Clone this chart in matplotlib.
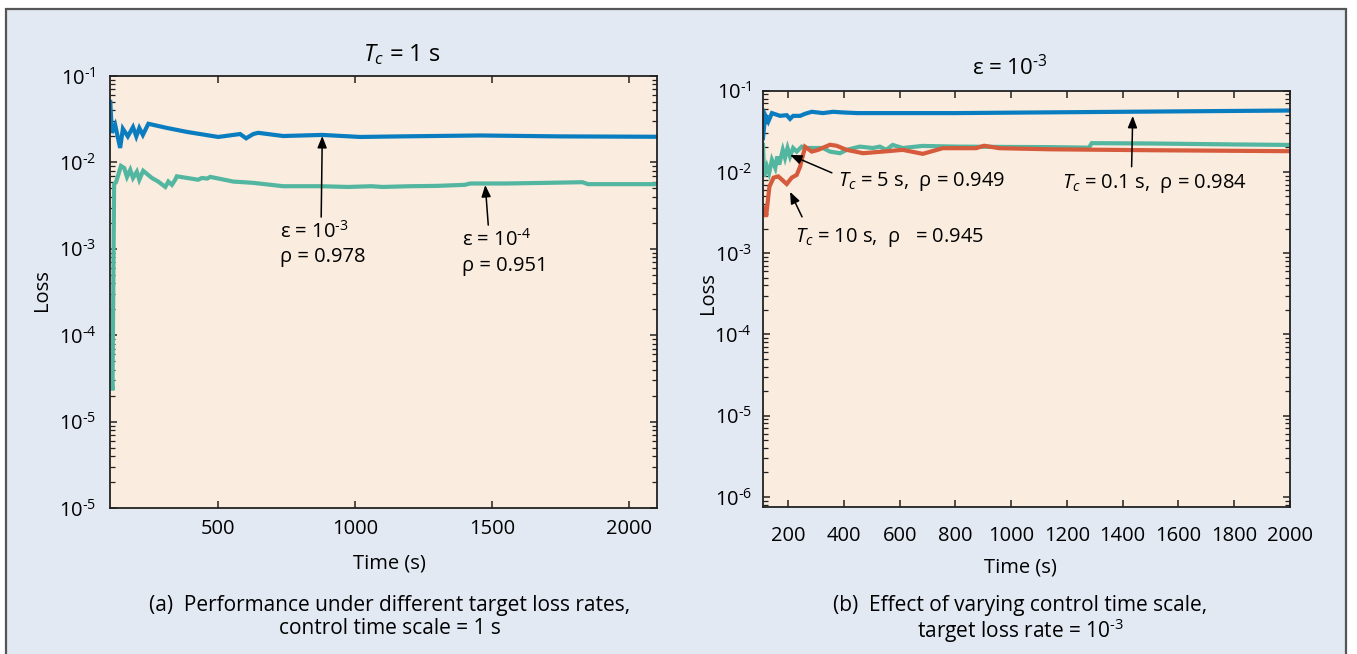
import matplotlib
matplotlib.use('Agg')
import matplotlib.pyplot as plt
from matplotlib.ticker import LogLocator, FixedLocator, FixedFormatter, NullFormatter
from matplotlib.patches import Rectangle

plt.rcParams['font.family'] = ['Open Sans', 'DejaVu Sans']
plt.rcParams['mathtext.fontset'] = 'custom'
plt.rcParams['mathtext.rm'] = 'Open Sans'
plt.rcParams['mathtext.it'] = 'Open Sans:italic'
plt.rcParams['mathtext.bf'] = 'Open Sans:bold'

# ---------------- data: panel (a) ----------------
a_eps3_t = [106, 112, 124, 142, 152, 170, 189, 201, 212, 225, 245, 314, 387, 500, 580, 602,
            628, 646, 737, 880, 1018, 1164, 1456, 1750, 2100]
a_eps3_loss = [0.050, 0.022, 0.027, 0.0147, 0.0245, 0.020, 0.0256, 0.020, 0.025, 0.0208, 0.028,
               0.025, 0.0225, 0.0197, 0.0213, 0.019, 0.0213, 0.022, 0.0202, 0.0208, 0.0197,
               0.0200, 0.0205, 0.0200, 0.0198]

a_eps4_t = [106, 114, 120, 127, 145, 157, 167, 179, 189, 203, 212, 226, 258, 281, 307, 318, 331,
            343, 349, 427, 440, 460, 471, 555, 628, 737, 872, 975, 1060, 1100, 1200, 1300, 1400,
            1420, 1550, 1700, 1830, 1850, 1950, 2100]
a_eps4_loss = [6.0e-5, 2.3e-5, 5.6e-3, 5.9e-3, 9.1e-3, 8.6e-3, 6.8e-3, 8.2e-3, 6.6e-3, 7.8e-3,
               6.3e-3, 8.0e-3, 6.6e-3, 6.0e-3, 5.2e-3, 6.0e-3, 5.5e-3, 6.3e-3, 6.9e-3, 6.3e-3,
               6.6e-3, 6.5e-3, 6.8e-3, 6.0e-3, 5.8e-3, 5.3e-3, 5.3e-3, 5.2e-3, 5.3e-3, 5.2e-3,
               5.3e-3, 5.35e-3, 5.5e-3, 5.7e-3, 5.7e-3, 5.8e-3, 5.9e-3, 5.6e-3, 5.6e-3, 5.6e-3]

a_xticks = [500, 1000, 1500, 2000]
a_yticks = [1e-6, 1e-5, 1e-4, 1e-3, 1e-2, 1e-1]
a_ytick_labels = [r'$10^{\text{-}5}$', r'$10^{\text{-}5}$', r'$10^{\text{-}4}$',
                  r'$10^{\text{-}3}$', r'$10^{\text{-}2}$', r'$10^{\text{-}1}$']

# ---------------- data: panel (b) ----------------
b_tc01_t = [110, 118, 129, 142, 171, 195, 207, 218, 243, 261, 285, 325, 361, 396, 450, 564,
            800, 1100, 1400, 1700, 2000]
b_tc01_loss = [0.026, 0.050, 0.0417, 0.053, 0.049, 0.050, 0.045, 0.049, 0.049, 0.052, 0.055,
               0.053, 0.055, 0.054, 0.053, 0.053, 0.053, 0.054, 0.055, 0.056, 0.057]

b_tc5_t = [110, 114, 124, 132, 142, 154, 161, 168, 181, 189, 198, 207, 218, 231, 249, 267, 325,
           350, 386, 410, 457, 504, 529, 552, 575, 611, 682, 804, 1000, 1136, 1279, 1289, 1500,
           1800, 2000]
b_tc5_loss = [0.0216, 0.0088, 0.0117, 0.0097, 0.0141, 0.0112, 0.0155, 0.0123, 0.0187, 0.0149,
              0.0197, 0.0155, 0.0197, 0.0178, 0.0205, 0.0197, 0.0197, 0.0178, 0.0170, 0.0187,
              0.0205, 0.0197, 0.0205, 0.0187, 0.0215, 0.0197, 0.0209, 0.0205, 0.0203, 0.0202,
              0.0199, 0.0226, 0.0224, 0.0218, 0.0215]

b_tc10_t = [112, 121, 133, 148, 165, 195, 213, 231, 243, 261, 285, 308, 350, 374, 410, 469, 540,
            611, 683, 755, 874, 903, 957, 1136, 1500, 1800, 2000]
b_tc10_loss = [0.0036, 0.0028, 0.0066, 0.0085, 0.0088, 0.0071, 0.0085, 0.0092, 0.0116, 0.0204,
               0.0178, 0.0187, 0.0216, 0.0210, 0.0187, 0.0170, 0.0178, 0.0187, 0.0167, 0.0196,
               0.0196, 0.0210, 0.0196, 0.0190, 0.0185, 0.0182, 0.0180]

b_xticks = [200, 400, 600, 800, 1000, 1200, 1400, 1600, 1800, 2000]
b_yticks = [1e-6, 1e-5, 1e-4, 1e-3, 1e-2, 1e-1]
b_ytick_labels = [r'$10^{\text{-}6}$', r'$10^{\text{-}5}$', r'$10^{\text{-}4}$',
                  r'$10^{\text{-}3}$', r'$10^{\text{-}2}$', r'$10^{\text{-}1}$']

# ---------------- styles ----------------
BG = '#e2e9f3'
PANEL = '#faecde'
BLUE = '#0a7dc0'
TEAL = '#52b6a0'
RED = '#d65a3c'
FS = 14.5
AFS = 14.5
CFS = 15

W, H = 1357, 654
fig = plt.figure(figsize=(W / 100, H / 100), dpi=100, facecolor='white')
fig.patches.append(Rectangle((6 / W, -0.05), (1346 - 6) / W, 1 - 9 / H + 0.05,
                             transform=fig.transFigure, facecolor=BG,
                             edgecolor='#555555', lw=1.6, zorder=-10))


def style_axes(ax, xticks, yticks, ylabels, xpad, ypad):
    ax.set_facecolor(PANEL)
    ax.set_yscale('log')
    for s in ax.spines.values():
        s.set_linewidth(1.3)
        s.set_color('#222222')
    ax.xaxis.set_major_locator(FixedLocator(xticks))
    ax.yaxis.set_major_locator(FixedLocator(yticks))
    ax.yaxis.set_major_formatter(FixedFormatter(ylabels))
    ax.yaxis.set_minor_locator(LogLocator(base=10, subs=range(2, 10), numticks=20))
    ax.yaxis.set_minor_formatter(NullFormatter())
    ax.tick_params(axis='both', which='major', direction='in', length=5, width=1.1,
                   top=True, right=True, labelsize=FS, color='#222222')
    ax.tick_params(axis='y', which='minor', direction='in', length=3.5, width=0.9,
                   left=True, right=True, color='#222222')
    ax.tick_params(axis='x', which='major', pad=xpad)
    ax.tick_params(axis='y', which='major', pad=ypad)


# ---------------- panel (a) ----------------
axa = fig.add_axes([110 / W, 1 - 508 / H, 547 / W, 432 / H])
axa.plot(a_eps4_t, a_eps4_loss, color=TEAL, lw=3.0, solid_joinstyle='miter')
axa.plot(a_eps3_t, a_eps3_loss, color=BLUE, lw=3.0, solid_joinstyle='miter')
style_axes(axa, a_xticks, a_yticks, a_ytick_labels, 8, 10)
axa.set_xlim(105, 2102)
axa.set_ylim(1e-6, 1e-1)

arrow = dict(arrowstyle='-|>,head_length=0.7,head_width=0.28', color='black', lw=1.1,
             shrinkA=0, shrinkB=0)
axa.annotate('', xy=(880, 0.0202), xytext=(876, 0.00233), arrowprops=arrow)
axa.text(726, 0.00156, r'ε = $10^{\text{-}3}$', fontsize=AFS, va='center', ha='left')
axa.text(726, 0.00080, 'ρ = 0.978', fontsize=AFS, va='center', ha='left')
axa.annotate('', xy=(1475, 0.00547), xytext=(1486, 0.00188), arrowprops=arrow)
axa.text(1391, 0.00126, r'ε = $10^{\text{-}4}$', fontsize=AFS, va='center', ha='left')
axa.text(1391, 0.00063, 'ρ = 0.951', fontsize=AFS, va='center', ha='left')

# ---------------- panel (b) ----------------
axb = fig.add_axes([763 / W, 1 - 507 / H, 527 / W, 416.3 / H])
axb.plot(b_tc5_t, b_tc5_loss, color=TEAL, lw=3.0, solid_joinstyle='miter')
axb.plot(b_tc10_t, b_tc10_loss, color=RED, lw=3.0, solid_joinstyle='miter')
axb.plot(b_tc01_t, b_tc01_loss, color=BLUE, lw=3.0, solid_joinstyle='miter')
style_axes(axb, b_xticks, b_yticks, b_ytick_labels, 14, 8)
axb.set_xlim(110, 2000)
axb.set_ylim(7.5e-7, 1e-1)

axb.annotate('', xy=(207, 0.0162), xytext=(357, 0.00975), arrowprops=arrow)
axb.text(379, 0.00755, r'$T_c$ = 5 s,  ρ = 0.949', fontsize=AFS, va='center', ha='left')
axb.annotate('', xy=(207, 0.00569), xytext=(250, 0.0028), arrowprops=arrow)
axb.text(225, 0.00155, r'$T_c$ = 10 s,  ρ   = 0.945', fontsize=AFS, va='center', ha='left')
axb.annotate('', xy=(1436, 0.0489), xytext=(1432, 0.0116), arrowprops=arrow)
axb.text(1182, 0.00714, r'$T_c$ = 0.1 s,  ρ = 0.984', fontsize=AFS, va='center', ha='left')

# ---------------- titles, labels, captions ----------------
fig.text(402 / W, 1 - 55 / H, r'$T_c$ = 1 s', fontsize=17, ha='center', va='center')
fig.text(1010 / W, 1 - 68 / H, r'ε = $10^{\text{-}3}$', fontsize=16, ha='center', va='center')
fig.text(42 / W, 1 - 290 / H, 'Loss', fontsize=FS, rotation=90, ha='center', va='center')
fig.text(708 / W, 1 - 293 / H, 'Loss', fontsize=FS, rotation=90, ha='center', va='center')
fig.text(389 / W, 1 - 564 / H, 'Time (s)', fontsize=FS, ha='center', va='center')
fig.text(1020 / W, 1 - 568 / H, 'Time (s)', fontsize=FS, ha='center', va='center')
fig.text(390 / W, 1 - 605 / H, '(a)  Performance under different target loss rates,',
         fontsize=CFS, ha='center', va='center')
fig.text(390 / W, 1 - 629 / H, 'control time scale = 1 s', fontsize=CFS, ha='center', va='center')
fig.text(1020 / W, 1 - 605 / H, '(b)  Effect of varying control time scale,',
         fontsize=CFS, ha='center', va='center')
fig.text(1020 / W, 1 - 631 / H, r'target loss rate = $10^{\text{-}3}$', fontsize=CFS,
         ha='center', va='center')

fig.savefig('out.png', dpi=100, facecolor=fig.get_facecolor())
